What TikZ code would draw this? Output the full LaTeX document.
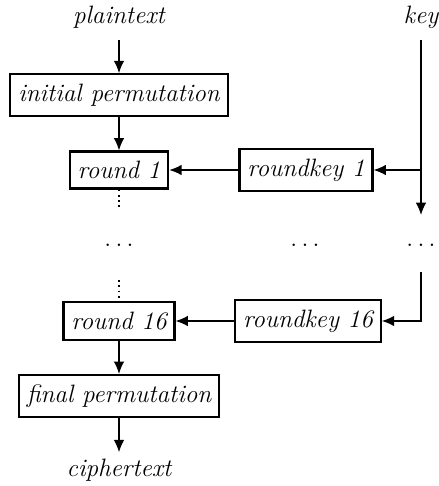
\documentclass[tikz,border=0pt]{standalone}
\usepackage{tikz}
\usetikzlibrary{positioning,arrows.meta}

\begin{document}
\begin{tikzpicture}[
        %Environment config
        font=\fontsize{14.3}{16}\selectfont\itshape,
        thick,
        >={Latex[length=7pt,width=6pt]},
        %Environment styles
        BoxCfg/.style={
            draw,
            line width=1.2pt,
            inner xsep=4.5pt,
            inner ysep=5.5pt
        },
        DotCfg/.style={
            dotted,
            line width=1pt
        }
    ]
    \useasboundingbox (0,0) rectangle (8.78,-9.72);
    \path
        (2.38,-0.34) node(plain){plaintext}
        (8.42,-0.34) node[inner xsep=0pt](key){key}
        (2.38,-1.9) node[BoxCfg](init){initial permutation}
        (2.38,-3.4) node[BoxCfg](R1){round 1}
        (6.12,-3.4) node[BoxCfg](K1){roundkey 1}
        (2.38,-6.42) node[BoxCfg](R16){round 16}
        (6.16,-6.42) node[BoxCfg](K16){roundkey 16}
        (2.38,-7.92) node[BoxCfg](final){final permutation}
        (2.38,-9.4) node(cipher){ciphertext}
        (2.38,-4.9) node(dotsL){$\ldots$}
        (6.1,-4.9) node(dotsM){$\ldots$}
        (8.42,-4.9) node(dotsR){$\ldots$}
        % free ends of the key line
        (8.42,-0.8) coordinate(keytop)
        (8.42,-4.3) coordinate(keyend)
        (8.42,-5.44) coordinate(keyrestart)
        (2.38,-4.2) coordinate(dotA)
        (2.38,-5.6) coordinate(dotB);

    \draw[->]
        (2.38,-0.8) -- (init.north);
    \draw[->] (init) -- (R1);
    \draw[->] (K1) -- (R1);
    \draw[->] (K16) -- (R16);
    \draw[->] (R16) -- (final);
    \draw[->] (final) -- (cipher);
    \draw[->] (keytop) -- (keyend);
    \draw[->] (keytop |- K1.east) -- (K1.east);
    \draw[->] (keyrestart) |- (K16.east);
    \draw[DotCfg]
        (R1.south) -- (dotA)
        (dotB) -- (R16.north);
\end{tikzpicture}
\end{document}
